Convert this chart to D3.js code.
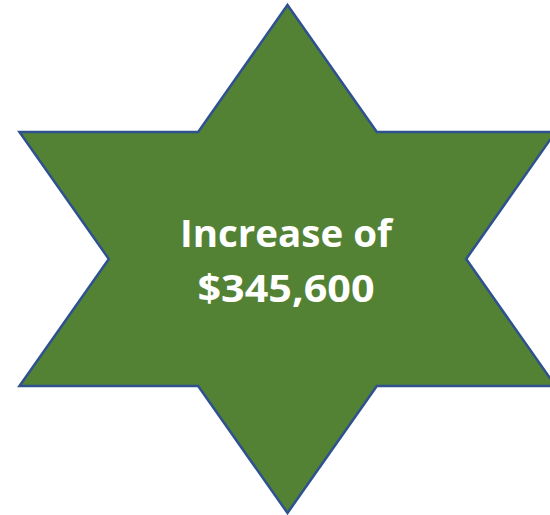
<!DOCTYPE html>
<html><head><meta charset="utf-8">
<script src="https://cdn.jsdelivr.net/npm/d3@7/dist/d3.min.js"></script>
<style>html,body{margin:0;padding:0;background:#fff;}svg{display:block;}</style>
</head><body>
<script>
const labelLines = ["Increase of", "$345,600"];
const increaseValue = [345600];
const starPoints = 6;
const innerRatio = [1 / Math.sqrt(3)];

const W = 550, H = 515;
const svg = d3.select("body").append("svg").attr("width", W).attr("height", H);

const x = d3.scaleLinear().domain([-1, 1]).range([-22, 597]);
const y = d3.scaleLinear().domain([-1, 1]).range([5, 513]);

const pts = d3.range(starPoints * 2).map(k => {
  const a = (-90 + k * 180 / starPoints) * Math.PI / 180;
  const r = k % 2 === 0 ? 1 : innerRatio[0];
  return [r * Math.cos(a), r * Math.sin(a)];
});

const line = d3.line().x(d => x(d[0])).y(d => y(d[1])).curve(d3.curveLinearClosed);
svg.append("path").attr("d", line(pts))
  .attr("fill", "#548235").attr("stroke", "#2F528F").attr("stroke-width", 2.5)
  .attr("stroke-linejoin", "miter");

const targets = [212, 177];
const baselines = [247, 302];
labelLines.forEach((t, i) => {
  const txt = svg.append("text").text(t)
    .attr("x", 286).attr("y", baselines[i])
    .attr("text-anchor", "middle")
    .attr("font-family", "'Open Sans', 'Noto Sans', sans-serif")
    .attr("font-weight", "bold").attr("font-size", 38).attr("fill", "#fff");
  txt.attr("textLength", targets[i]).attr("lengthAdjust", "spacingAndGlyphs");
});
</script>
</body></html>
